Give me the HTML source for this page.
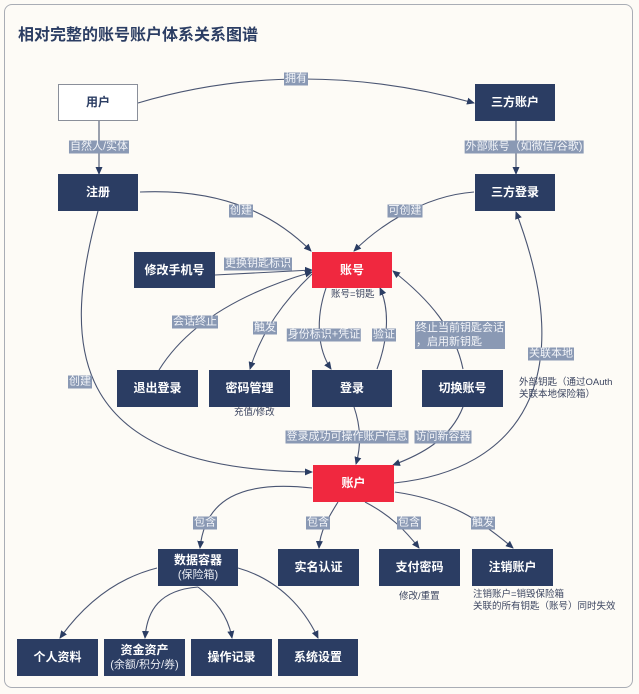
<!DOCTYPE html>
<html><head><meta charset="utf-8"><style>
body{margin:0;background:#fff;}
#c{position:relative;width:639px;height:694px;background:#fdfbf6;overflow:hidden;font-family:"Liberation Sans","Noto Sans CJK SC",sans-serif;}
.frame{position:absolute;left:4px;top:4px;width:627px;height:682px;border:1.5px solid #a9adb5;border-radius:8px;}
.t{position:absolute;left:18px;top:21px;font-size:16px;font-weight:bold;color:#2b3d63;}
.n{position:absolute;background:#2b3d63;color:#fff;font-size:12px;font-weight:bold;display:flex;flex-direction:column;align-items:center;justify-content:center;line-height:15px;text-align:center;}
.n small{font-weight:normal;font-size:11px;color:#e8ebf2;}
.r{background:#f0283f;}
.w{background:#fff;color:#2b3d63;border:1px solid #8a8f9a;box-sizing:border-box;}
.l{position:absolute;background:#8a99b4;color:#f3f5f9;font-size:11px;line-height:13px;padding:0 1px;white-space:nowrap;transform:translate(-50%,-50%);}
.x{position:absolute;font-size:9.5px;color:#3c4560;line-height:12px;white-space:nowrap;}
svg{position:absolute;left:0;top:0;}
</style></head><body><div id="c">
<div class="frame"></div>
<div class="t">相对完整的账号账户体系关系图谱</div>
<svg width="639" height="694" fill="none" stroke="#4a5572" stroke-width="1.1">
<defs><marker id="a" markerWidth="8" markerHeight="8" refX="7" refY="4" orient="auto" markerUnits="userSpaceOnUse"><path d="M0,0.5 L8,4 L0,7.5z" fill="#2b3d63" stroke="none"/></marker></defs>
<g marker-end="url(#a)">
<path d="M138,103 Q300,55 474,103"/>
<path d="M99,121 L99,174"/>
<path d="M516,121 L516,174"/>
<path d="M140,192 C230,188 280,220 311,251"/>
<path d="M474,192 C420,196 375,230 354,251"/>
<path d="M215,275 L312,270"/>
<path d="M159,370 C190,320 250,290 312,272"/>
<path d="M312,274 C285,300 262,330 250,369"/>
<path d="M326,288 C315,320 318,350 331,369"/>
<path d="M377,369 C388,340 390,310 380,288"/>
<path d="M463,369 C455,330 430,300 393,271"/>
<path d="M98,211 C60,350 70,470 312,472"/>
<path d="M394,483 C520,470 580,380 516,212"/>
<path d="M354,407 C362,430 360,450 356,464"/>
<path d="M463,407 C450,440 420,455 393,465"/>
<path d="M312,488 C240,480 205,500 200,548"/>
<path d="M338,502 C330,515 320,530 319,548"/>
<path d="M365,502 C390,515 405,530 419,548"/>
<path d="M395,492 C450,500 480,520 513,548"/>
<path d="M157,568 C110,580 80,610 60,638"/>
<path d="M198,587 C160,590 147,610 145,638"/>
<path d="M198,587 C215,600 228,615 232,638"/>
<path d="M238,568 C280,580 305,610 318,638"/>
</g></svg>
<div class="n w" style="left:58px;top:84px;width:80px;height:37px">用户</div>
<div class="n" style="left:475px;top:84px;width:80px;height:37px">三方账户</div>
<div class="n" style="left:58px;top:174px;width:80px;height:37px">注册</div>
<div class="n" style="left:475px;top:174px;width:80px;height:37px">三方登录</div>
<div class="n" style="left:134px;top:252px;width:81px;height:36px">修改手机号</div>
<div class="n r" style="left:312px;top:252px;width:80px;height:36px">账号</div>
<div class="n" style="left:117px;top:370px;width:81px;height:37px">退出登录</div>
<div class="n" style="left:209px;top:370px;width:81px;height:37px">密码管理</div>
<div class="n" style="left:312px;top:370px;width:80px;height:37px">登录</div>
<div class="n" style="left:422px;top:370px;width:81px;height:37px">切换账号</div>
<div class="n r" style="left:313px;top:465px;width:81px;height:37px">账户</div>
<div class="n" style="left:158px;top:549px;width:80px;height:37px">数据容器<small>(保险箱)</small></div>
<div class="n" style="left:278px;top:549px;width:81px;height:37px">实名认证</div>
<div class="n" style="left:379px;top:549px;width:81px;height:37px">支付密码</div>
<div class="n" style="left:472px;top:549px;width:81px;height:37px">注销账户</div>
<div class="n" style="left:17px;top:639px;width:81px;height:37px">个人资料</div>
<div class="n" style="left:104px;top:639px;width:81px;height:37px">资金资产<small>(余额/积分/券)</small></div>
<div class="n" style="left:191px;top:639px;width:81px;height:37px">操作记录</div>
<div class="n" style="left:278px;top:639px;width:80px;height:37px">系统设置</div>
<div class="l" style="left:296px;top:79px">拥有</div>
<div class="l" style="left:99px;top:147px">自然人/实体</div>
<div class="l" style="left:524px;top:147px">外部账号（如微信/谷歌)</div>
<div class="l" style="left:241px;top:211px">创建</div>
<div class="l" style="left:405px;top:211px">可创建</div>
<div class="l" style="left:258px;top:264px">更换钥匙标识</div>
<div class="l" style="left:195px;top:322px">会话终止</div>
<div class="l" style="left:265px;top:328px">触发</div>
<div class="l" style="left:324px;top:335px">身份标识+凭证</div>
<div class="l" style="left:384px;top:335px">验证</div>
<div class="l" style="left:460px;top:335px;line-height:14px">终止当前钥匙会话<br>，启用新钥匙</div>
<div class="l" style="left:80px;top:382px">创建</div>
<div class="l" style="left:551px;top:354px">关联本地</div>
<div class="l" style="left:347px;top:437px">登录成功可操作账户信息</div>
<div class="l" style="left:443px;top:437px">访问新容器</div>
<div class="l" style="left:205px;top:523px">包含</div>
<div class="l" style="left:318px;top:523px">包含</div>
<div class="l" style="left:409px;top:523px">包含</div>
<div class="l" style="left:483px;top:523px">触发</div>
<div class="x" style="left:331px;top:289px">账号=钥匙</div>
<div class="x" style="left:234px;top:407px">充值/修改</div>
<div class="x" style="left:519px;top:377px">外部钥匙（通过OAuth<br>关联本地保险箱）</div>
<div class="x" style="left:399px;top:591px">修改/重置</div>
<div class="x" style="left:473px;top:589px">注销账户=销毁保险箱<br>关联的所有钥匙（账号）同时失效</div>
</div></body></html>
